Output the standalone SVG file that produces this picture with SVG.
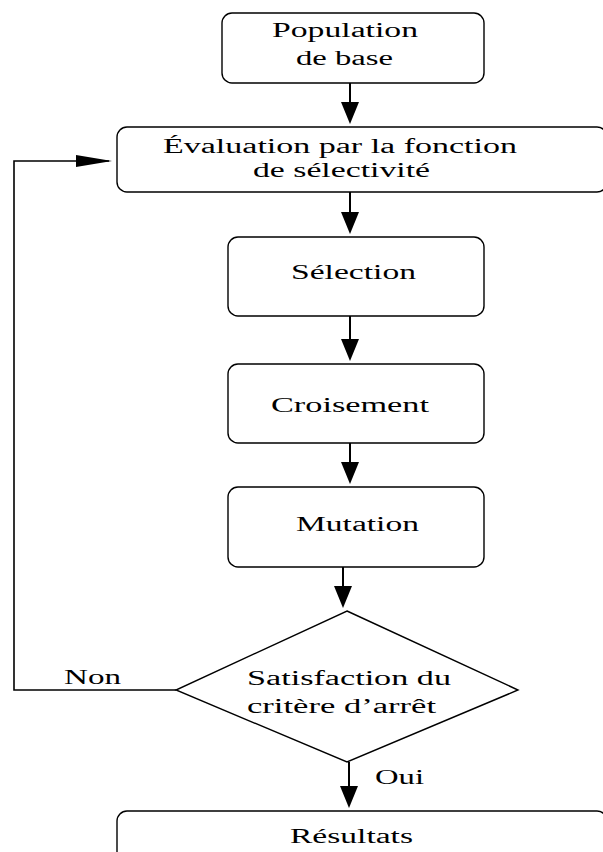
<svg xmlns="http://www.w3.org/2000/svg" width="603" height="852" viewBox="0 0 603 852">
<style>
.box{fill:#fff;stroke:#000;stroke-width:1.4}
.t{font-family:"Liberation Serif","Times New Roman",serif;font-size:20px;fill:#000}
.c{fill:none;stroke:#000;stroke-width:2}
.c2{fill:none;stroke:#000;stroke-width:1.6}
</style>
<defs>
<marker id="av" markerUnits="userSpaceOnUse" markerWidth="22" markerHeight="18" viewBox="0 0 22 18" refX="19" refY="9" orient="auto">
<path d="M0,0 L22,9 L0,18 Z" fill="#000"/>
</marker>
<marker id="ah" markerUnits="userSpaceOnUse" markerWidth="36" markerHeight="12" viewBox="0 0 36 12" refX="33" refY="6" orient="auto">
<path d="M0,0 L36,6 L0,12 Z" fill="#000"/>
</marker>
</defs>
<rect width="603" height="852" fill="#fff"/>
<g id="connectors">
<line class="c" x1="350" y1="83" x2="350" y2="121" marker-end="url(#av)"/>
<line class="c" x1="350" y1="192" x2="350" y2="231" marker-end="url(#av)"/>
<line class="c" x1="350" y1="316" x2="350" y2="358" marker-end="url(#av)"/>
<line class="c" x1="350" y1="443" x2="350" y2="481" marker-end="url(#av)"/>
<line class="c" x1="343" y1="567" x2="343" y2="605" marker-end="url(#av)"/>
<line class="c" x1="349" y1="762" x2="349" y2="805" marker-end="url(#av)"/>
<polyline class="c2" points="176,690 14,690 14,161 109,161" marker-end="url(#ah)"/>
<text class="t" x="64" y="684" textLength="57" lengthAdjust="spacingAndGlyphs">Non</text>
<text class="t" x="375" y="784" textLength="49" lengthAdjust="spacingAndGlyphs">Oui</text>
</g>
<g id="population">
<rect class="box" x="222" y="13" width="262" height="70" rx="10"/>
<text class="t" x="272" y="37" textLength="146" lengthAdjust="spacingAndGlyphs">Population</text>
<text class="t" x="296" y="65" textLength="97" lengthAdjust="spacingAndGlyphs">de base</text>
</g>
<g id="evaluation">
<rect class="box" x="117" y="127" width="490" height="65" rx="10"/>
<text class="t" x="163" y="153" textLength="354" lengthAdjust="spacingAndGlyphs">Évaluation par la fonction</text>
<text class="t" x="253" y="177" textLength="177" lengthAdjust="spacingAndGlyphs">de sélectivité</text>
</g>
<g id="selection">
<rect class="box" x="228" y="237" width="256" height="79" rx="10"/>
<text class="t" x="291" y="279" textLength="125" lengthAdjust="spacingAndGlyphs">Sélection</text>
</g>
<g id="croisement">
<rect class="box" x="228" y="364" width="256" height="79" rx="10"/>
<text class="t" x="271" y="412" textLength="158" lengthAdjust="spacingAndGlyphs">Croisement</text>
</g>
<g id="mutation">
<rect class="box" x="228" y="487" width="256" height="80" rx="10"/>
<text class="t" x="296" y="531" textLength="123" lengthAdjust="spacingAndGlyphs">Mutation</text>
</g>
<g id="critere">
<polygon class="box" points="347,611 518,690 347,762 176,690"/>
<text class="t" x="247" y="685" textLength="204" lengthAdjust="spacingAndGlyphs">Satisfaction du</text>
<text class="t" x="247" y="713" textLength="189" lengthAdjust="spacingAndGlyphs">critère d’arrêt</text>
</g>
<g id="resultats">
<rect class="box" x="117" y="811" width="490" height="70" rx="10"/>
<text class="t" x="290" y="843" textLength="123" lengthAdjust="spacingAndGlyphs">Résultats</text>
</g>
</svg>
